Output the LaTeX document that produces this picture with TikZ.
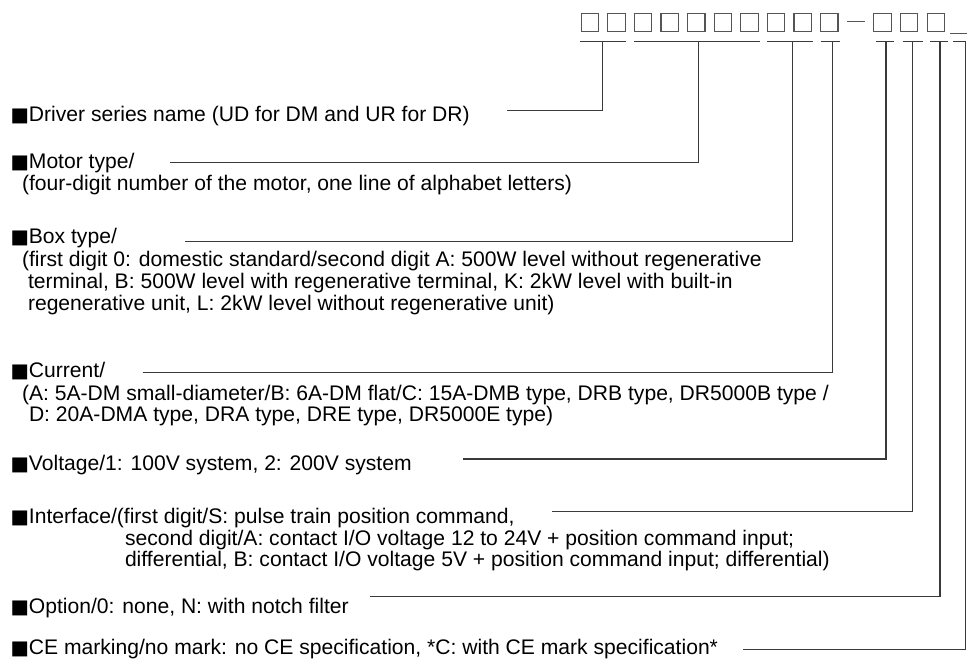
\documentclass[tikz,border=0pt]{standalone}
\usepackage{fontspec}
\setmainfont{Liberation Sans}
\newfontfamily\sqfont{DejaVu Sans}
\newcommand{\blk}{{\sqfont\fontsize{19.5}{20}\selectfont ■}}
\definecolor{linegray}{HTML}{3A3A3A}
\definecolor{boxgray}{HTML}{555555}
\begin{document}
\begin{tikzpicture}[x=1pt,y=-1pt,
  txt/.style={anchor=base west,inner sep=0pt,outer sep=0pt,font=\fontsize{21.1}{22}\selectfont,text=black},
  digit/.style={draw=boxgray,line width=1.1pt,minimum width=17.4pt,minimum height=18.6pt,inner sep=0pt,outer sep=0pt},
  conn/.style={draw=linegray,line width=1.2pt},
  dashmark/.style={draw=boxgray,line width=1.1pt}]
\useasboundingbox (0,0) rectangle (967,659);
% code boxes
\foreach \i in {0,...,9}{\node[digit] (d\i) at (589.85+26.6*\i,22.5) {};}
\node[digit] (d10) at (882.5,22.5) {};
\node[digit] (d11) at (909.2,22.5) {};
\node[digit] (d12) at (935.9,22.5) {};
\coordinate (dashL) at (846.7,21.7);
\coordinate (dashR) at (865,21.7);
\draw[dashmark] (dashL) -- (dashR);
\coordinate (usL) at (950,33.3);
\coordinate (usR) at (966.7,33.3);
\draw[dashmark] (usL) -- (usR);
% underline bars
\draw[conn] (580,41.7) -- (626.4,41.7);
\draw[conn] (634,41.7) -- (760,41.7);
\draw[conn] (767.3,41.7) -- (813.3,41.7);
\draw[conn] (820.7,41.7) -- (840,41.7);
\draw[conn] (876,41.7) -- (894.3,41.7);
\draw[conn] (902.7,41.7) -- (922.7,41.7);
\draw[conn] (930,41.7) -- (948.3,41.7);
\draw[conn] (953.3,41.7) -- (965.7,41.7);
\coordinate (tA) at (602.7,41.7);
\coordinate (tB) at (698.3,41.7);
\coordinate (tC) at (792.3,41.7);
\coordinate (tD) at (832.7,41.7);
\coordinate (tE) at (886,41.7);
\coordinate (tF) at (912.3,41.7);
\coordinate (tG) at (940,41.7);
\coordinate (tH) at (965.7,41.7);
% labels
\node[txt] (drv) at (10.5,121.7) {\blk Driver series name (UD for DM and UR for DR)};
\node[txt] (mot) at (10.5,168.3) {\blk Motor type/};
\node[txt] (mot2) at (22,190) {(four-digit number of the motor, one line of alphabet letters)};
\node[txt] (box) at (10.5,243.3) {\blk Box type/};
\node[txt] (box2) at (22,266) {(first digit 0: domestic standard/second digit A: 500W level without regenerative};
\node[txt] (box3) at (28,288.3) {terminal, B: 500W level with regenerative terminal, K: 2kW level with built-in};
\node[txt] (box4) at (28,310.7) {regenerative unit, L: 2kW level without regenerative unit)};
\node[txt] (cur) at (10.5,377) {\blk Current/};
\node[txt] (cur2) at (22,400.5) {(A: 5A-DM small-diameter/B: 6A-DM flat/C: 15A-DMB type, DRB type, DR5000B type /};
\node[txt] (cur3) at (29,421) {D: 20A-DMA type, DRA type, DRE type, DR5000E type)};
\node[txt] (vol) at (10.5,470) {\blk Voltage/1: 100V system, 2: 200V system};
\node[txt] (itf) at (10.5,523.3) {\blk Interface/(first digit/S: pulse train position command,};
\node[txt] (itf2) at (125,545.5) {second digit/A: contact I/O voltage 12 to 24V + position command input;};
\node[txt] (itf3) at (125,566) {differential, B: contact I/O voltage 5V + position command input; differential)};
\node[txt] (opt) at (10.5,613) {\blk Option/0: none, N: with notch filter};
\node[txt] (ce) at (10.5,654) {\blk CE marking/no mark: no CE specification, *C: with CE mark specification*};
% connector start points
\coordinate (sA) at (507,110.7);
\coordinate (sB) at (170,162.3);
\coordinate (sC) at (185,241.7);
\coordinate (sD) at (142.7,372.3);
\coordinate (sE) at (463,459);
\coordinate (sF) at (552,511.7);
\coordinate (sG) at (370,596.7);
\coordinate (sH) at (743,649.3);
\draw[conn] (sA) -| (tA);
\draw[conn] (sB) -| (tB);
\draw[conn] (sC) -| (tC);
\draw[conn] (sD) -| (tD);
\draw[conn] (sE) -| (tE);
\draw[conn] (sF) -| (tF);
\draw[conn] (sG) -| (tG);
\draw[conn] (sH) -| (tH);
\end{tikzpicture}
\end{document}
